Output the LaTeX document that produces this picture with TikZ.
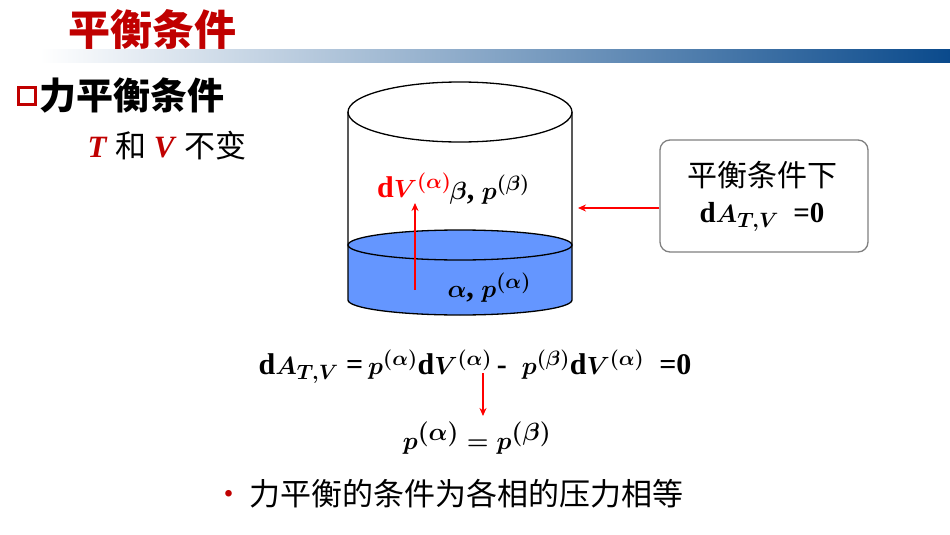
\documentclass[tikz,border=0pt]{standalone}
\usepackage{fontspec}
\usepackage{amsmath}
\newfontfamily\cjk{Noto Sans CJK SC}
\newfontfamily\cjkb{Noto Sans CJK SC Black}
\setmainfont{Liberation Serif}
\usetikzlibrary{arrows.meta}
\definecolor{tred}{RGB}{192,0,0}
\definecolor{bar}{RGB}{10,74,140}
\definecolor{liq}{RGB}{100,150,255}
\tikzset{redarr/.style={draw=red,line width=1.5pt,-{Stealth[length=8pt,width=7pt]}},
eq/.style={font=\fontsize{30}{32}\selectfont\bfseries\boldmath}}
\begin{document}
\begin{tikzpicture}[x=1pt,y=-1pt]
\useasboundingbox (0,0) rectangle (950,535);
\fill[white] (0,0) rectangle (950,535);
\shade[left color=white,right color=bar] (40,50) rectangle (950,63);
\node[text=tred,font=\cjkb\fontsize{42}{44}\selectfont] (title) at (152,30) {平衡条件};
\node[draw=tred,line width=3pt,minimum size=17pt,inner sep=0pt] (sq) at (27,96) {};
\node[anchor=west,font=\cjkb\fontsize{37}{40}\selectfont] (sub) at (36,96) {力平衡条件};
\node[anchor=west,font=\fontsize{31}{34}\selectfont] (tv) at (84,146) {\textcolor{tred}{\textbf{\textit{T}}}\ {\cjk 和}\ \textcolor{tred}{\textbf{\textit{V}}}\ {\cjk 不变}};
% cylinder
\fill[liq] (348,245) arc[start angle=180,end angle=0,x radius=112,y radius=15] -- (572,300) arc[start angle=0,end angle=180,x radius=112,y radius=15] -- cycle;
\filldraw[fill=liq,draw=black,line width=1.3pt] (460,245) ellipse[x radius=112,y radius=15];
\draw[line width=1.3pt] (460,112) ellipse[x radius=112,y radius=30];
\draw[line width=1.3pt] (348,112) -- (348,300) arc[start angle=180,end angle=0,x radius=112,y radius=15] -- (572,112);
\coordinate (a0) at (415,290);
\coordinate (a1) at (415,203);
\draw[redarr] (a0) -- (a1);
\node[eq,text=red,anchor=east] (dv) at (455,185) {d$V^{(\alpha)}$};
\node[eq,anchor=west] (bp) at (446,190) {$\beta$, $p^{(\beta)}$};
\node[eq,anchor=west] (ap) at (444,288) {$\alpha$, $p^{(\alpha)}$};
% info box
\node[draw=gray,line width=1.3pt,rounded corners=10pt,minimum width=208pt,minimum height=112pt] (infobox) at (764,196) {};
\node[font=\cjk\fontsize{30}{32}\selectfont] (bt1) at (762,175) {平衡条件下};
\node[font=\fontsize{29}{32}\selectfont\bfseries\boldmath] (bt2) at (762,217) {d$A_{T,V}$\enspace=0};
\coordinate (bt) at (578,208);
\draw[redarr,line width=1.3pt] (infobox.west |- bt) -- (bt);
% equations
\node[eq] (e1) at (475,367) {d$A_{T,V}$\ =\,$p^{(\alpha)}$d$V^{(\alpha)}$\,-\enspace$p^{(\beta)}$d$V^{(\alpha)}$\enspace=0};
\coordinate (b0) at (483,373);
\coordinate (b1) at (483,416);
\draw[redarr,line width=1.3pt] (b0) -- (b1);
\node[eq,font=\fontsize{38}{40}\selectfont\bfseries\boldmath] (e2) at (477,438) {$p^{(\alpha)}=p^{(\beta)}$};
\node[anchor=west,font=\cjk\fontsize{31}{34}\selectfont] (bul) at (210,494) {\textcolor{tred}{•}\,力平衡的条件为各相的压力相等};
\end{tikzpicture}
\end{document}
